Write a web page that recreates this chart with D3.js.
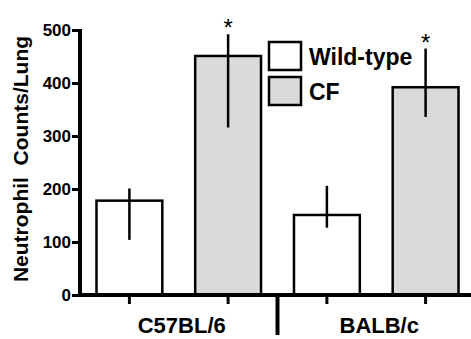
<!DOCTYPE html>
<html>
<head>
<meta charset="utf-8">
<script src="https://cdn.jsdelivr.net/npm/d3@7"></script>
<style>
  body { margin: 0; background: #fff; }
  svg { display: block; font-family: "Liberation Sans", Arial, sans-serif; }
</style>
</head>
<body>
<svg id="chart" width="471" height="339"></svg>
<script>
const strains = ['C57BL/6', 'BALB/c'];
const series = ['Wild-type', 'CF'];
const wildType = [178, 151];
const wildTypeLow = [104, 127];
const wildTypeHigh = [201, 206];
const cf = [451, 392];
const cfLow = [316, 336];
const cfHigh = [492, 465];
const significant = [false, true];
const yTicks = [0, 100, 200, 300, 400, 500];

const fills = { 'Wild-type': '#ffffff', 'CF': '#dadadc' };

const svg = d3.select('#chart');

const x0 = d3.scaleBand().domain(strains).range([80, 475]);
const x1 = d3.scaleBand().domain(series).range([0, x0.bandwidth()])
  .paddingInner(0.333).paddingOuter(0.167);
const y = d3.scaleLinear().domain([0, 500]).range([295, 30]);

const rows = [];
strains.forEach((s, i) => {
  rows.push({ strain: s, key: 'Wild-type', value: wildType[i], low: wildTypeLow[i], high: wildTypeHigh[i], star: significant[0] });
  rows.push({ strain: s, key: 'CF', value: cf[i], low: cfLow[i], high: cfHigh[i], star: significant[1] });
});
const cx = d => x0(d.strain) + x1(d.key) + x1.bandwidth() / 2;

// bars
svg.append('g').selectAll('rect')
  .data(rows)
  .enter()
  .append('rect')
  .attr('x', d => x0(d.strain) + x1(d.key))
  .attr('y', d => y(d.value))
  .attr('width', x1.bandwidth())
  .attr('height', d => y(0) - y(d.value))
  .attr('fill', d => fills[d.key])
  .attr('stroke', '#000')
  .attr('stroke-width', 2.5);

// error bars
svg.append('g').selectAll('line')
  .data(rows)
  .enter()
  .append('line')
  .attr('x1', cx).attr('x2', cx)
  .attr('y1', d => y(d.low))
  .attr('y2', d => y(d.high))
  .attr('stroke', '#000')
  .attr('stroke-width', 2.5);

// asterisks
svg.append('g').selectAll('text')
  .data(rows.filter(d => d.star))
  .enter()
  .append('text')
  .attr('x', cx)
  .attr('y', d => y(d.high) + 2)
  .attr('text-anchor', 'middle')
  .attr('font-size', 24)
  .text('*');

// y axis
const yAxis = svg.append('g')
  .attr('transform', 'translate(80,0)')
  .call(d3.axisLeft(y).tickValues(yTicks).tickSize(8).tickSizeOuter(0).tickPadding(1));
yAxis.select('.domain').attr('stroke-width', 4).attr('d', `M0,${y(500) - 1}V${y(0) + 2}`);
yAxis.selectAll('.tick line').attr('stroke-width', 3);
yAxis.selectAll('.tick text')
  .attr('font-size', 17).attr('font-weight', 'bold')
  .attr('font-family', '"Liberation Sans", Arial, sans-serif').attr('fill', '#000');

// x axis
svg.append('line')
  .attr('x1', 78).attr('x2', 471)
  .attr('y1', y(0)).attr('y2', y(0))
  .attr('stroke', '#000').attr('stroke-width', 4);

svg.append('g').selectAll('line')
  .data(rows)
  .enter()
  .append('line')
  .attr('x1', cx).attr('x2', cx)
  .attr('y1', y(0)).attr('y2', y(0) + 9)
  .attr('stroke', '#000').attr('stroke-width', 3);

// group separator
svg.append('line')
  .attr('x1', x0('BALB/c')).attr('x2', x0('BALB/c'))
  .attr('y1', y(0)).attr('y2', 335)
  .attr('stroke', '#000').attr('stroke-width', 4);

svg.append('g').selectAll('text')
  .data(strains)
  .enter()
  .append('text')
  .attr('x', s => x0(s) + x0.bandwidth() / 2 + 3)
  .attr('y', 333)
  .attr('text-anchor', 'middle')
  .attr('font-size', 22)
  .attr('font-weight', 'bold')
  .text(s => s);

// y label
svg.append('text')
  .attr('transform', 'translate(28,159) rotate(-90)')
  .attr('text-anchor', 'middle')
  .attr('font-size', 21)
  .attr('font-weight', 'bold')
  .attr('xml:space', 'preserve')
  .style('white-space', 'pre')
  .text('Neutrophil  Counts/Lung');

// legend
const legend = svg.append('g').attr('transform', 'translate(269,42)');
series.forEach((s, i) => {
  legend.append('rect')
    .attr('x', 0).attr('y', i * 35)
    .attr('width', 32).attr('height', 28)
    .attr('fill', fills[s])
    .attr('stroke', '#000').attr('stroke-width', 2.5);
  legend.append('text')
    .attr('x', 40).attr('y', i * 35 + 23)
    .attr('font-size', 23)
    .attr('font-weight', 'bold')
    .text(s);
});
</script>
</body>
</html>
